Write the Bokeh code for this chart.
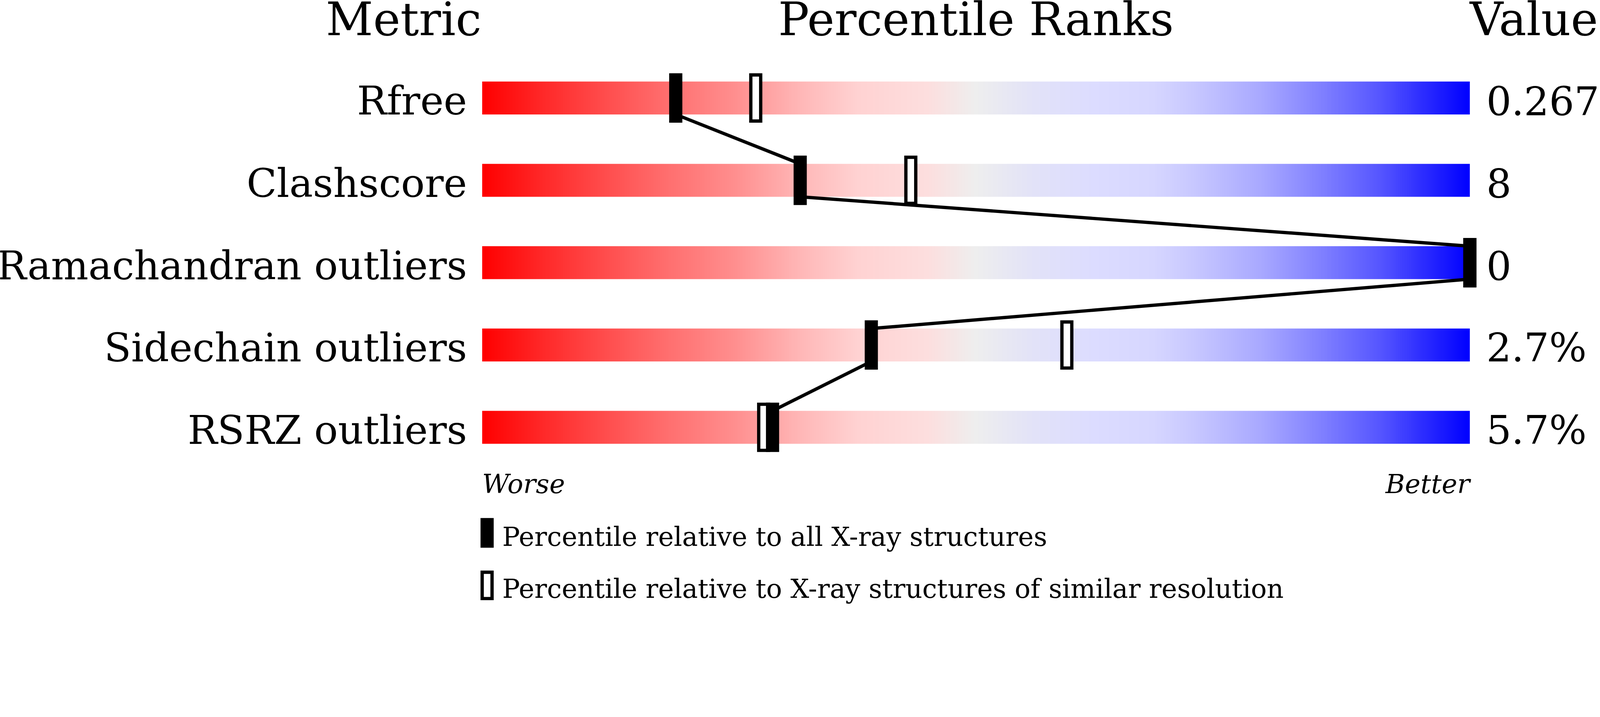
import numpy as np
from bokeh.plotting import figure
from bokeh.models import Range1d
from bokeh.core.properties import value
from bokeh.embed import file_html
from bokeh.resources import INLINE

# ---------------- data ----------------
metrics = ["Rfree", "Clashscore", "Ramachandran outliers", "Sidechain outliers", "RSRZ outliers"]
metric_values = ["0.267", "8", "0", "2.7%", "5.7%"]
pct_all_xray = [19.6, 32.2, 100.0, 39.4, 29.4]        # filled markers
pct_similar_res = [27.7, 43.4, 100.0, 59.2, 28.5]     # hollow markers
header_labels = ["Metric", "Percentile Ranks", "Value"]
scale_labels = ["Worse", "Better"]
legend_labels = ["Percentile relative to all X-ray structures",
                 "Percentile relative to X-ray structures of similar resolution"]

# ---------------- layout ----------------
# design values are in reference-picture pixels; S = picture pixels per CSS pixel
S = 4860 / 4096
PAGE_OFF = 0                         # the Bokeh page template sets body margin to 0
W = 4090
H = 1830
BAR_X0, PX_PER_PCT = 1464, 30.0      # picture x of percentile 0, px per percentile
ROW0_Y, ROW_STEP = 297, 250          # picture y of first row centre, px per row

def p_at(px):
    return (px - BAR_X0) / PX_PER_PCT

def r_at(py):
    return (py - ROW0_Y) / ROW_STEP

def sz(px):
    return px / S

rows = list(range(len(metrics)))
HALF = 50 / ROW_STEP                 # bar half-height in row units
MID = 0.35                           # baseline below the 'middle' anchor, in em

FONT = value("DejaVu Serif")
F_TITLE, F_LABEL, F_SMALL = 140, 120, 80

p = figure(width=W, height=H,
           x_range=Range1d(p_at(S * PAGE_OFF), p_at(S * (PAGE_OFF + W))),
           y_range=Range1d(r_at(S * (PAGE_OFF + H)), r_at(S * PAGE_OFF)),
           output_backend="svg", toolbar_location=None,
           x_axis_location=None, y_axis_location=None,
           min_border=0, outline_line_color=None,
           background_fill_color="white", border_fill_color="white")
p.grid.visible = False

# ---------------- gradient bars ----------------
stop_pos = [0.00, 0.06, 0.13, 0.19, 0.255, 0.32, 0.38, 0.45, 0.50, 0.56, 0.62, 0.68, 0.72, 0.79, 0.85, 0.91, 1.00]
stop_r   = [255, 255, 255, 255, 255, 255, 255, 253, 238, 226, 220, 214, 200, 168, 128,  85,   0]
stop_g   = [  0,  40,  80, 112, 142, 182, 210, 222, 238, 226, 220, 214, 200, 168, 128,  85,   0]
stop_b   = [  0,  40,  80, 112, 142, 182, 210, 222, 238, 248, 255, 255, 255, 255, 255, 255, 255]
N = 1000
t = np.linspace(0, 1, N)
img = np.empty((1, N), dtype=np.uint32)
view = img.view(dtype=np.uint8).reshape((1, N, 4))
view[0, :, 0] = np.interp(t, stop_pos, stop_r).round().astype(np.uint8)
view[0, :, 1] = np.interp(t, stop_pos, stop_g).round().astype(np.uint8)
view[0, :, 2] = np.interp(t, stop_pos, stop_b).round().astype(np.uint8)
view[0, :, 3] = 255

p.image_rgba(image=[img] * len(rows), x=[0] * len(rows),
             y=[r - HALF for r in rows], dw=[100] * len(rows), dh=[2 * HALF] * len(rows))

# ---------------- connecting line ----------------
p.segment(x0=pct_all_xray[:-1], y0=[r + HALF for r in rows[:-1]],
          x1=pct_all_xray[1:], y1=[r + 1 - HALF for r in rows[:-1]],
          line_color="black", line_width=sz(10))

# ---------------- markers ----------------
p.rect(x=pct_similar_res, y=rows, width=sz(30), height=sz(140),
       width_units="screen", height_units="screen",
       fill_color="white", line_color="black", line_width=sz(10), line_join="miter")
p.rect(x=pct_all_xray, y=rows, width=sz(40), height=sz(150),
       width_units="screen", height_units="screen",
       fill_color="black", line_color=None)

# ---------------- texts ----------------
def txt(x, base_y, text, size, align, x_off=0, style="normal"):
    p.text(x=x, y=[r_at(b - MID * size) for b in base_y], text=text,
           text_font=FONT, text_font_size=f"{sz(size):.1f}px", text_font_style=style,
           text_align=align, text_baseline="middle", x_offset=sz(x_off))

TITLE_BASE = 107
txt([0], [TITLE_BASE], [header_labels[0]], F_TITLE, "right", -2)
txt([50], [TITLE_BASE], [header_labels[1]], F_TITLE, "center")
txt([100], [TITLE_BASE], [header_labels[2]], F_TITLE, "left")

row_base = [ROW0_Y + ROW_STEP * r + 51 for r in rows]
txt([0] * len(rows), row_base, metrics, F_LABEL, "right", -46)
txt([100] * len(rows), row_base, metric_values, F_LABEL, "left", 50)

SCALE_BASE = 1497
txt([0], [SCALE_BASE], [scale_labels[0]], F_SMALL, "left", 0, "italic")
txt([100], [SCALE_BASE], [scale_labels[1]], F_SMALL, "right", 0, "italic")

# ---------------- legend ----------------
leg_x = p_at(1479)
leg_marker_y = [r_at(1617.5), r_at(1777)]
p.rect(x=[leg_x], y=[leg_marker_y[0]], width=sz(40), height=sz(90),
       width_units="screen", height_units="screen", fill_color="black", line_color=None)
p.rect(x=[leg_x], y=[leg_marker_y[1]], width=sz(30), height=sz(80),
       width_units="screen", height_units="screen", fill_color="white",
       line_color="black", line_width=sz(10), line_join="miter")
txt([0, 0], [1657, 1815], legend_labels, F_SMALL, "left", 61)

open("out.html", "w").write(file_html(p, INLINE))
